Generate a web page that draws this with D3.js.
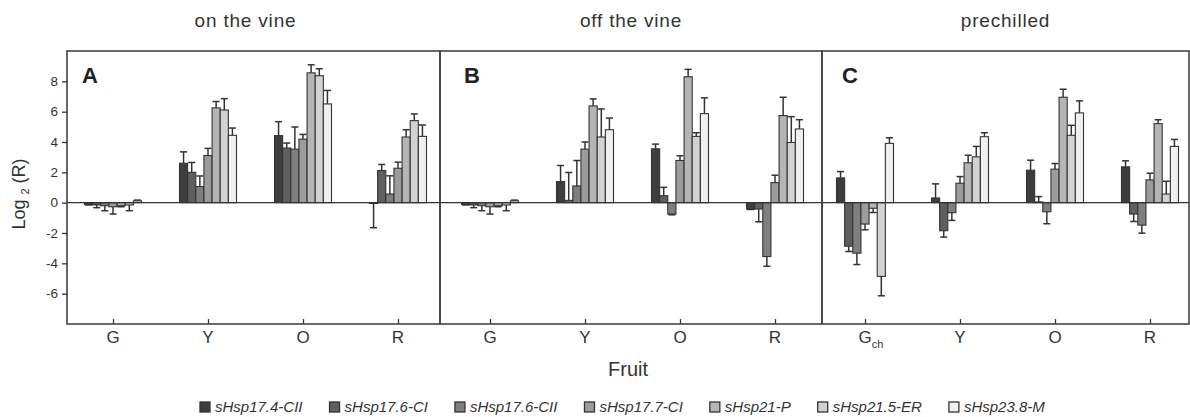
<!DOCTYPE html>
<html>
<head>
<meta charset="utf-8">
<script src="https://cdn.jsdelivr.net/npm/d3@7"></script>
<style>
  body { margin: 0; background: #fff; }
  svg { display: block; font-family: "Liberation Sans", Arial, sans-serif; }
</style>
</head>
<body>
<div id="chart"></div>
<script>
// Data
const categories = ['G', 'Y', 'O', 'R'];
const seriesNames = ['sHsp17.4-CII', 'sHsp17.6-CI', 'sHsp17.6-CII', 'sHsp17.7-CI', 'sHsp21-P', 'sHsp21.5-ER', 'sHsp23.8-M'];
const seriesColors = ['#3d3d3d', '#5f5f5f', '#7f7f7f', '#9c9c9c', '#b5b5b5', '#d2d2d2', '#f0f0f0'];
const panelTitles = ['on the vine', 'off the vine', 'prechilled'];
const panelLetters = ['A', 'B', 'C'];
const yTicks = [-6, -4, -2, 0, 2, 4, 6, 8];

// values[category][series]
const valuesA = [
  [-0.12, -0.15, -0.2, -0.27, -0.2, -0.15, 0.12],
  [2.6, 2.0, 1.06, 3.11, 6.25, 6.11, 4.44],
  [4.42, 3.6, 3.53, 4.19, 8.56, 8.37, 6.51],
  [-0.05, 2.12, 0.57, 2.27, 4.33, 5.41, 4.37]
];
const errorsA = [
  [0.03, 0.18, 0.33, 0.48, 0.07, 0.38, 0.05],
  [0.75, 0.65, 0.7, 0.47, 0.42, 0.75, 0.48],
  [0.92, 0.33, 1.46, 0.31, 0.53, 0.46, 0.89],
  [1.6, 0.4, 1.2, 0.4, 0.48, 0.44, 0.75]
];
const valuesB = [
  [-0.12, -0.15, -0.2, -0.27, -0.2, -0.15, 0.12],
  [1.39, 0.15, 1.1, 3.53, 6.38, 4.33, 4.81],
  [3.55, 0.46, -0.75, 2.78, 8.3, 4.37, 5.87],
  [-0.42, -0.42, -3.55, 1.32, 5.74, 3.97, 4.86]
];
const errorsB = [
  [0.03, 0.18, 0.33, 0.48, 0.07, 0.38, 0.05],
  [1.06, 1.84, 1.68, 0.47, 0.46, 1.85, 0.77],
  [0.31, 0.55, 0.05, 0.31, 0.49, 0.24, 1.04],
  [0.03, 0.84, 0.64, 0.49, 1.21, 1.7, 0.61]
];
const valuesC = [
  [1.63, -2.87, -3.33, -1.41, -0.37, -4.86, 3.91],
  [0.31, -1.85, -0.66, 1.28, 2.63, 3.02, 4.35],
  [2.14, 0.05, -0.6, 2.21, 6.95, 4.44, 5.92],
  [2.36, -0.75, -1.48, 1.5, 5.21, 0.57, 3.71]
];
const errorsC = [
  [0.42, 0.35, 0.75, 0.38, 0.28, 1.28, 0.37],
  [0.93, 0.42, 0.51, 0.44, 0.5, 0.69, 0.26],
  [0.66, 0.35, 0.79, 0.37, 0.53, 0.66, 0.79],
  [0.4, 0.49, 0.53, 0.44, 0.26, 0.84, 0.46]
];

const panelValues = [valuesA, valuesB, valuesC];
const panelErrors = [errorsA, errorsB, errorsC];

// Layout
const width = 1190, height = 417;
const plotTop = 51, plotBottom = 324;
const panelEdges = [67, 440, 822, 1189];
const panelInsets = [[46, 42], [50, 47], [43, 39]];
const letterOffsets = [15, 24, 20];
const groupWidth = 57;
const ink = '#333';

const svg = d3.select('#chart').append('svg')
  .attr('width', width)
  .attr('height', height);

const y = d3.scaleLinear().domain([-8, 10]).range([plotBottom, plotTop]);

panelTitles.forEach((title, p) => {
  const x0 = panelEdges[p], x1 = panelEdges[p + 1];
  const g = svg.append('g');

  const x = d3.scalePoint()
    .domain(categories)
    .range([x0 + panelInsets[p][0], x1 - panelInsets[p][1]]);

  const inner = d3.scaleBand()
    .domain(d3.range(seriesNames.length))
    .range([-groupWidth / 2, groupWidth / 2]);

  // Panel title
  svg.append('text')
    .attr('x', (x0 + x1) / 2 - (p === 0 ? 8 : 0))
    .attr('y', 27)
    .attr('text-anchor', 'middle')
    .attr('font-size', '19px')
    .attr('letter-spacing', '0.8px')
    .attr('fill', ink)
    .text(title);

  // Bars and error bars
  categories.forEach((cat, ci) => {
    const vals = panelValues[p][ci];
    const errs = panelErrors[p][ci];
    const grp = g.append('g').attr('transform', `translate(${x(cat)},0)`);

    vals.forEach((v, si) => {
      const bx = inner(si);
      const bw = inner.bandwidth();
      const cx = bx + bw / 2;
      const end = v + Math.sign(v || -1) * errs[si];

      // error bar
      grp.append('line')
        .attr('x1', cx).attr('x2', cx)
        .attr('y1', y(v)).attr('y2', y(end))
        .attr('stroke', ink).attr('stroke-width', 1.5);
      grp.append('line')
        .attr('x1', cx - 3.5).attr('x2', cx + 3.5)
        .attr('y1', y(end)).attr('y2', y(end))
        .attr('stroke', ink).attr('stroke-width', 1.5);

      grp.append('rect')
        .attr('x', bx)
        .attr('width', bw)
        .attr('y', y(Math.max(0, v)))
        .attr('height', Math.abs(y(v) - y(0)))
        .attr('fill', seriesColors[si])
        .attr('stroke', ink)
        .attr('stroke-width', 1.1);
    });
  });

  // zero line
  g.append('line')
    .attr('x1', x0).attr('x2', x1)
    .attr('y1', y(0)).attr('y2', y(0))
    .attr('stroke', ink).attr('stroke-width', 1.3);

  // x axis ticks (inside, pointing up)
  const xAxis = g.append('g')
    .attr('transform', `translate(0,${plotBottom})`)
    .call(d3.axisBottom(x).tickSizeInner(-5).tickSizeOuter(0).tickFormat(''));
  xAxis.select('.domain').remove();
  xAxis.selectAll('.tick line').attr('stroke', ink).attr('stroke-width', 1.3);

  // x labels
  categories.forEach(cat => {
    const t = g.append('text')
      .attr('x', x(cat))
      .attr('y', 343)
      .attr('text-anchor', 'middle')
      .attr('font-size', '17px')
      .attr('fill', ink);
    if (p === 2 && cat === 'G') {
      t.append('tspan').text('G');
      t.append('tspan').attr('font-size', '11px').attr('dy', 5).text('ch');
      t.attr('x', x(cat) + 6);
    } else {
      t.text(cat);
    }
  });

  // panel frame
  g.append('rect')
    .attr('x', x0).attr('y', plotTop)
    .attr('width', x1 - x0).attr('height', plotBottom - plotTop)
    .attr('fill', 'none')
    .attr('stroke', '#444')
    .attr('stroke-width', 1.6);

  // panel letter
  g.append('text')
    .attr('x', x0 + letterOffsets[p])
    .attr('y', 83)
    .attr('font-size', '22px')
    .attr('font-weight', 'bold')
    .attr('fill', '#222')
    .text(panelLetters[p]);
});

// y axis
const yAxis = svg.append('g')
  .attr('transform', `translate(${panelEdges[0]},0)`)
  .call(d3.axisLeft(y).tickValues(yTicks).tickSize(5).tickPadding(4).tickFormat(d => String(d)));
yAxis.select('.domain').remove();
yAxis.selectAll('.tick line').attr('stroke', ink).attr('stroke-width', 1.3);
yAxis.selectAll('.tick text')
  .attr('font-size', '13.5px')
  .attr('fill', ink)
  .attr('font-family', '"Liberation Sans", Arial, sans-serif');

// y title
const yTitle = svg.append('text')
  .attr('transform', 'translate(25,194) rotate(-90)')
  .attr('text-anchor', 'middle')
  .attr('font-size', '18px')
  .attr('fill', ink);
yTitle.append('tspan').text('Log ');
yTitle.append('tspan').attr('font-size', '11px').attr('dy', 4).text('2');
yTitle.append('tspan').attr('dy', -4).text(' (R)');

// x title
svg.append('text')
  .attr('x', 628)
  .attr('y', 376)
  .attr('text-anchor', 'middle')
  .attr('font-size', '20px')
  .attr('fill', ink)
  .text('Fruit');

// legend
const legend = svg.append('g').attr('transform', 'translate(200,0)');
let lx = 0;
seriesNames.forEach((name, i) => {
  const item = legend.append('g').attr('transform', `translate(${lx},0)`);
  item.append('rect')
    .attr('x', 0).attr('y', 402)
    .attr('width', 10).attr('height', 10)
    .attr('fill', seriesColors[i])
    .attr('stroke', ink)
    .attr('stroke-width', 1.3);
  const t = item.append('text')
    .attr('x', 15).attr('y', 412)
    .attr('font-size', '15px')
    .attr('font-style', 'italic')
    .attr('fill', ink)
    .text(name);
  lx += 15 + t.node().getComputedTextLength() + 27;
});
</script>
</body>
</html>
